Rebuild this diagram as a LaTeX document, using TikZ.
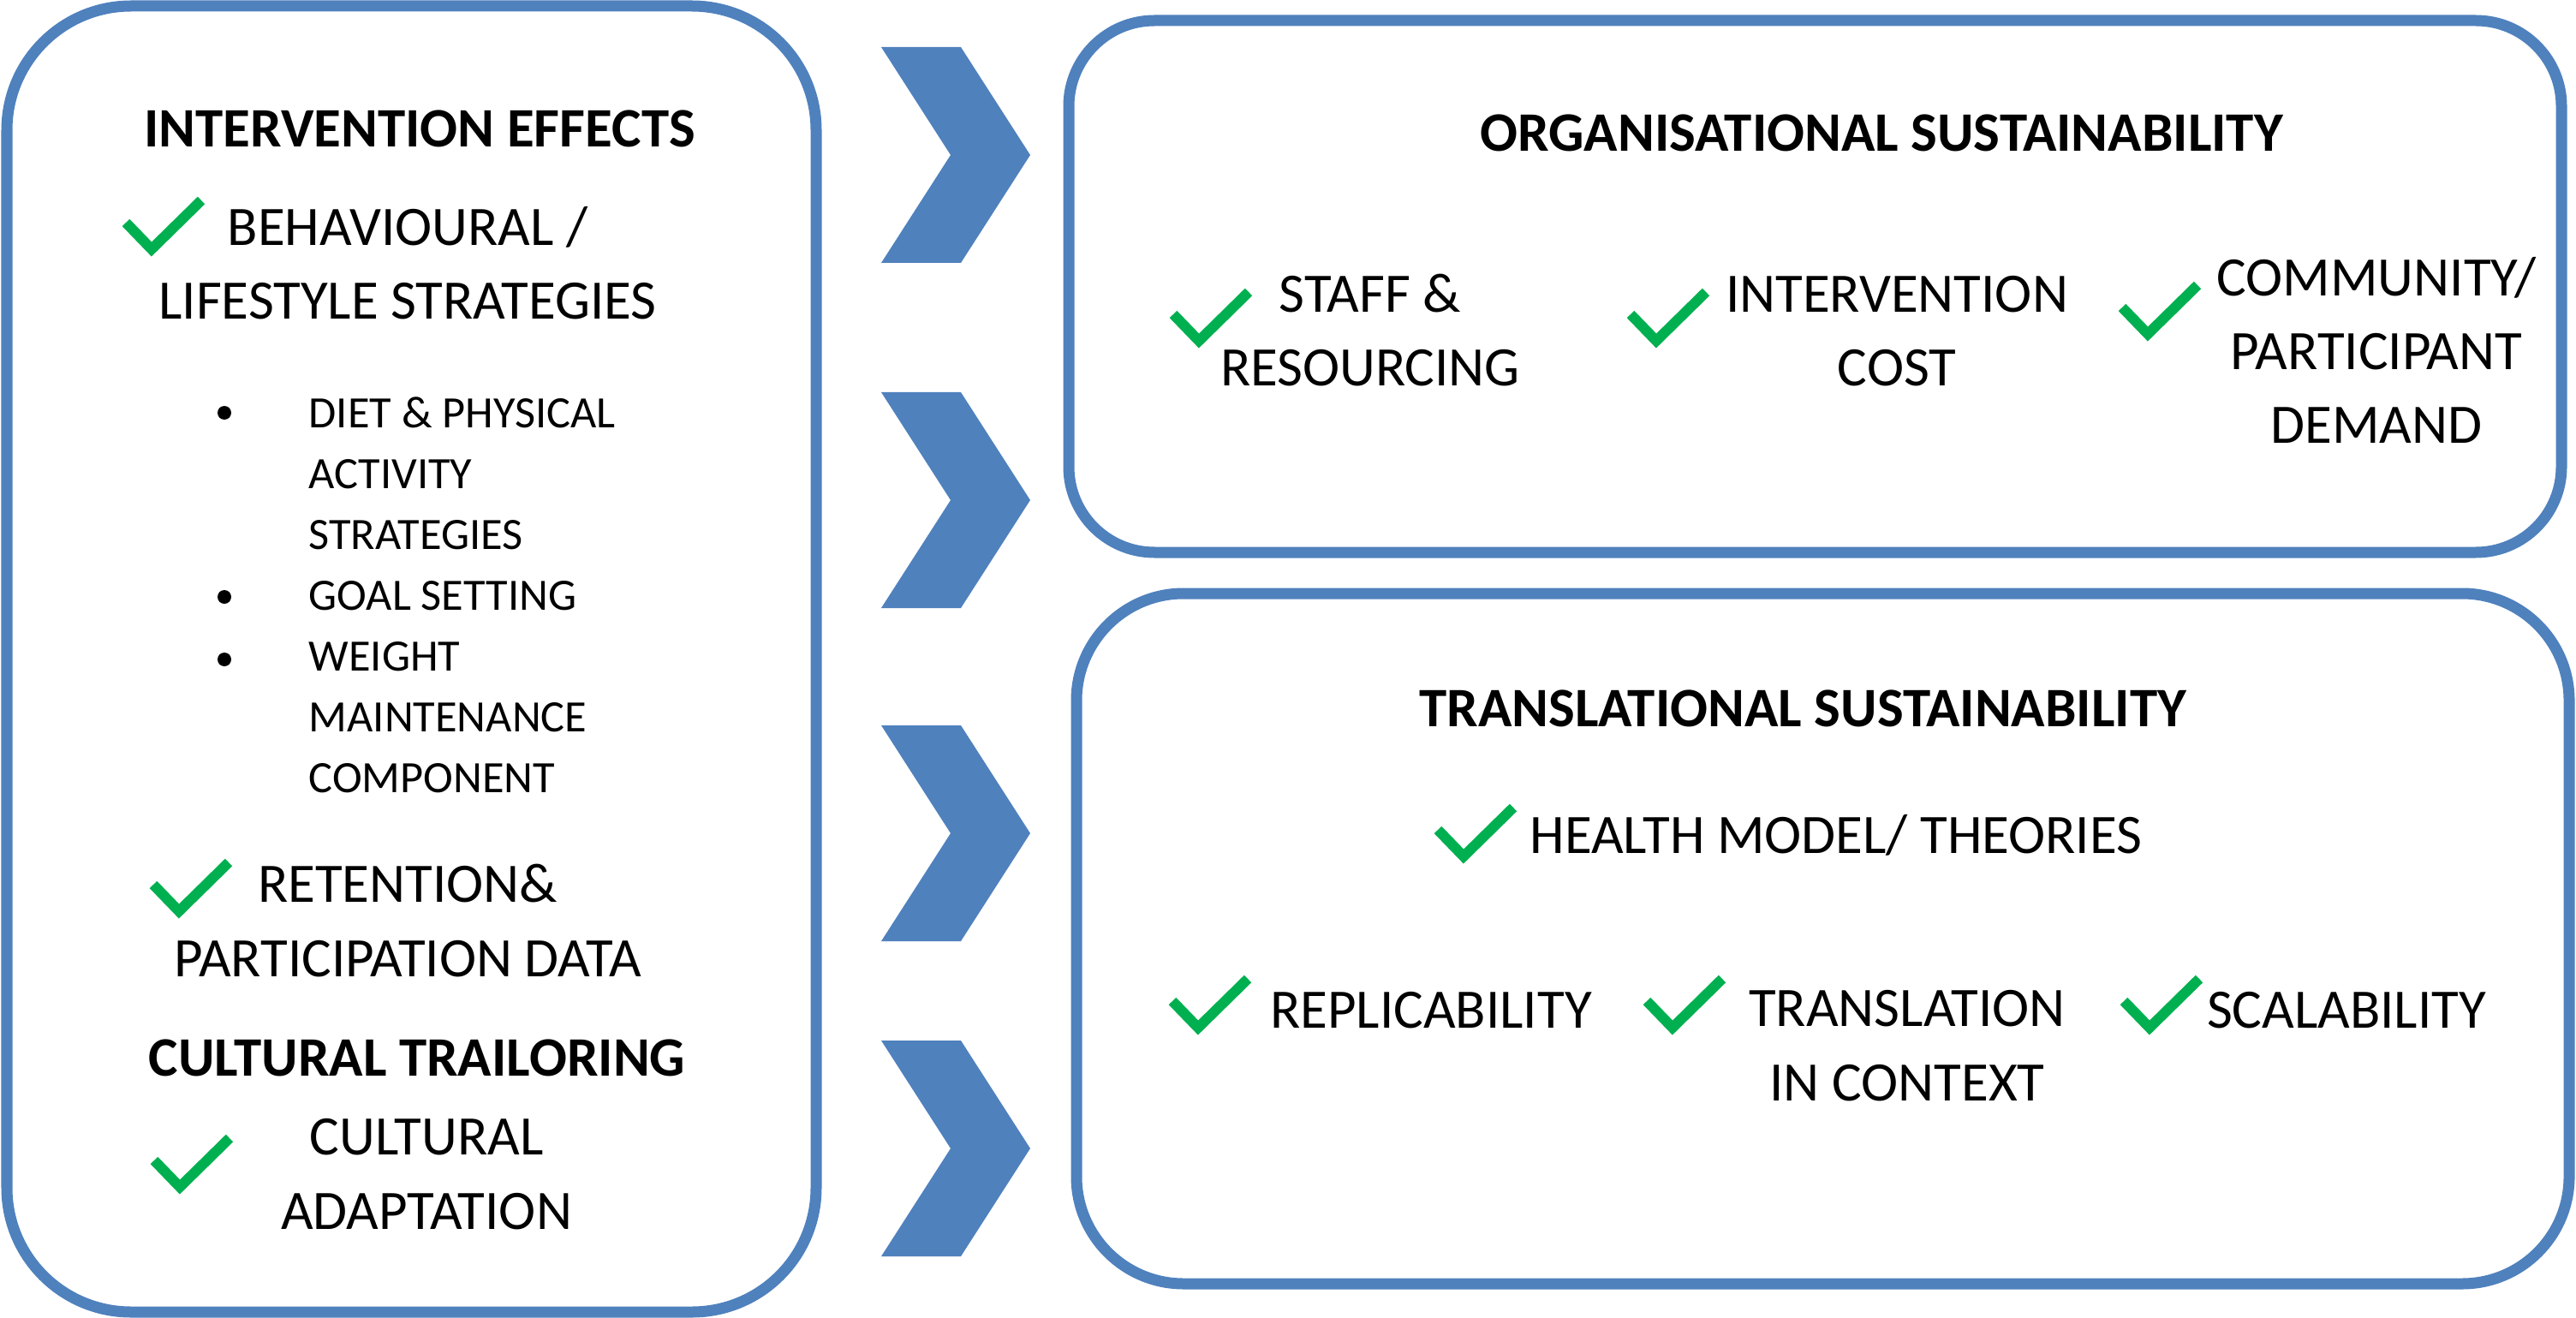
\documentclass[tikz,border=0pt]{standalone}
\usepackage{fontspec}
\setmainfont{Carlito}
\usepackage{xcolor}
\usepackage{tikz}
\definecolor{panelblue}{HTML}{4F81BD}
\definecolor{tickgreen}{HTML}{00B050}

\begin{document}
\begin{tikzpicture}
[
panel/.style={draw=panelblue, line width=0.13cm},
chevron/.style={fill=panelblue},
head/.style={font=\bfseries\fontsize{18.5}{24.5}\selectfont, anchor=base, inner sep=0pt},
txt/.style={font=\fontsize{18.5}{24.5}\selectfont, align=center, anchor=base, inner sep=0pt},
sub/.style={font=\fontsize{14.9}{20.2}\selectfont, align=left, anchor=base west, inner sep=0pt},
chk/.pic={\draw[tickgreen, line width=0.12cm, miter limit=4] (-0.44,0.06) -- (-0.14,-0.25) -- (0.44,0.32);},
]
\useasboundingbox (0,0) rectangle (30.08,-15.39);

% panels
\draw[panel, rounded corners=1.45cm] (0.08,-0.07) rectangle (9.53,-15.32);
\draw[panel, rounded corners=1.0cm] (12.48,-0.24) rectangle (29.91,-6.45);
\draw[panel, rounded corners=1.25cm] (12.57,-6.93) rectangle (30.00,-14.99);

% chevrons
\foreach \t in {0.55,4.58,8.47,12.15}
  \fill[chevron] (10.29,-\t) -- (11.22,-\t) -- (12.03,-\t-1.26) -- (11.22,-\t-2.52) -- (10.29,-\t-2.52) -- (11.10,-\t-1.26) -- cycle;

% left panel (multi-line nodes sit on their last line)
\node at (4.90,-1.72) [head] (effects) {INTERVENTION EFFECTS};
\pic at (1.91,-2.66) {chk};
\node at (4.76,-3.73) [txt] (behav) {BEHAVIOURAL /\\LIFESTYLE STRATEGIES};
\node at (3.60,-9.25) [sub] (sublist) {DIET \& PHYSICAL\\ACTIVITY\\STRATEGIES\\GOAL SETTING\\WEIGHT\\MAINTENANCE\\COMPONENT};
\foreach \y in {4.82,6.97,7.70}
  \fill (2.62,-\y) circle (0.08);
\pic at (2.23,-10.39) {chk};
\node at (4.76,-11.40) [txt] (retent) {RETENTION\&\\PARTICIPATION DATA};
\node at (4.87,-12.56) [head] (cultural) {CULTURAL TRAILORING};
\pic at (2.24,-13.61) {chk};
\node at (4.98,-14.35) [txt] (adapt) {CULTURAL\\ADAPTATION};

% organisational
\node at (21.97,-1.77) [head] (orgsus) {ORGANISATIONAL SUSTAINABILITY};
\pic at (14.14,-3.73) {chk};
\node at (16.00,-4.51) [txt] (staff) {STAFF \&\\RESOURCING};
\pic at (19.48,-3.73) {chk};
\node at (22.15,-4.51) [txt] (cost) {INTERVENTION\\COST};
\pic at (25.22,-3.65) {chk};
\node at (27.75,-5.18) [txt] (demand) {COMMUNITY/\\PARTICIPANT\\DEMAND};

% translational
\node at (21.05,-8.48) [head] (transsus) {TRANSLATIONAL SUSTAINABILITY};
\pic at (17.23,-9.75) {chk};
\node at (21.44,-9.96) [txt] (health) {HEALTH MODEL/ THEORIES};
\pic at (14.13,-11.75) {chk};
\node at (16.71,-12.00) [txt] (replic) {REPLICABILITY};
\pic at (19.67,-11.75) {chk};
\node at (22.27,-12.85) [txt] (context) {TRANSLATION\\IN CONTEXT};
\pic at (25.24,-11.75) {chk};
\node at (27.40,-12.00) [txt] (scale) {SCALABILITY};
\end{tikzpicture}
\end{document}
